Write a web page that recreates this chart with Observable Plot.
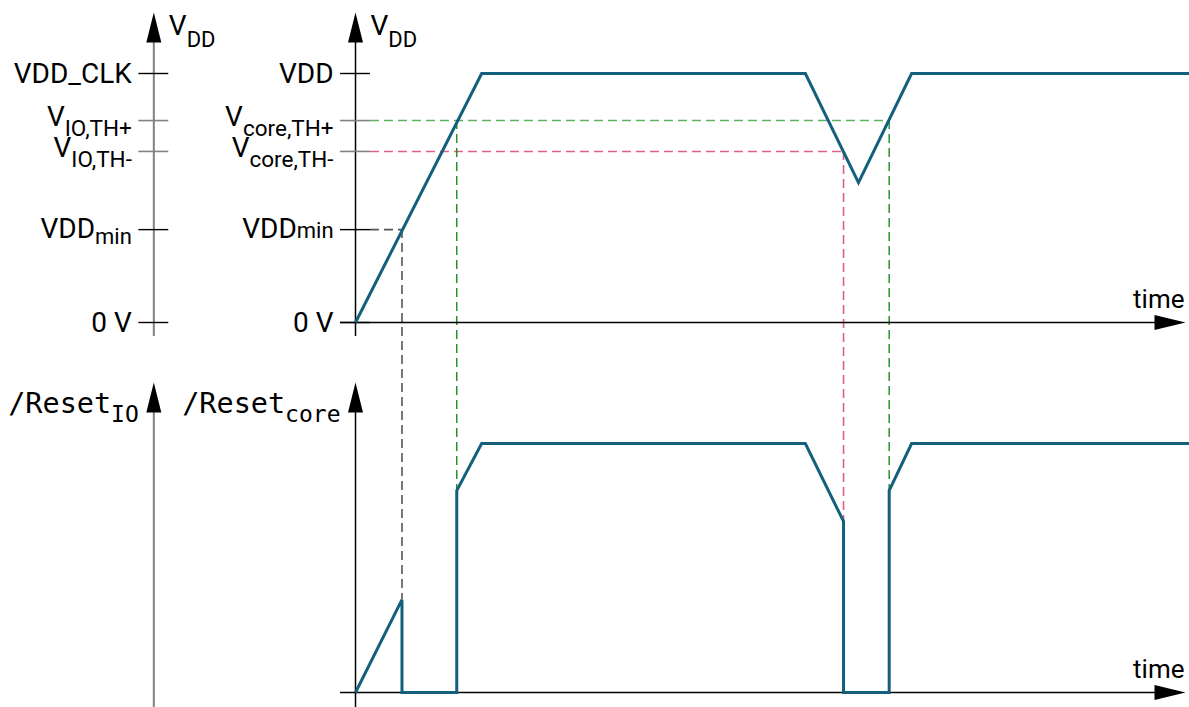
<!DOCTYPE html>
<html>
<head>
<meta charset="utf-8">
<script src="https://cdn.jsdelivr.net/npm/d3@7"></script>
<script src="https://cdn.jsdelivr.net/npm/@observablehq/plot@0.6"></script>
<style>
html, body { margin: 0; padding: 0; background: #fff; }
#chart svg { display: block; }
</style>
</head>
<body>
<div id="chart"></div>
<script>
// ---------------- data ----------------
// supply levels (normalised to VDD = 1)
const levelValues   = [0, 0.373, 0.687, 0.811, 1];
const ioLabelMain   = ["0 V", "VDD", "V", "V", "VDD_CLK"];
const ioLabelSub    = ["", "min", "IO,TH-", "IO,TH+", ""];
const coreLabelMain = ["0 V", "VDD", "V", "V", "VDD"];
const coreLabelSub  = ["", "min", "core,TH-", "core,TH+", ""];
const thresholdLevel = [false, false, true, true, false];

// VDD waveform (time in arbitrary units)
const vddTimes  = [0, 15.2, 54.2, 60.6, 67.0, 100.5];
const vddValues = [0, 1, 1, 0.562, 1, 1];

// /Reset_core waveform
const resetTimes  = [0, 5.6, 5.6, 12.2, 12.2, 15.2, 54.2, 58.8, 58.8, 64.3, 64.3, 67.0, 100.5];
const resetValues = [0, 0.373, 0, 0, 0.811, 1, 1, 0.687, 0, 0, 0.811, 1, 1];

// threshold crossing events
const eventTimes  = [5.6, 12.2, 58.8, 64.3];
const eventLevels = [0.373, 0.811, 0.687, 0.811];
const eventKinds  = ["min", "plus", "minus", "plus"];

// axis titles
const vTitleMain = ["V", "V"];
const vTitleSub  = ["DD", "DD"];
const rTitleMain = ["/Reset", "/Reset"];
const rTitleSub  = ["IO", "core"];
const timeLabel  = "time";

// ---------------- layout constants (data units) ----------------
const LEFT_AXIS = -24.3;     // IO reference axis position on the time scale
const CORE_AXIS = 0;
const AXES = [LEFT_AXIS, CORE_AXIS];
const TICK = 1.8;
const RESET_BASE = -1.486;   // vertical offset of the reset panel
const AXIS_TOP = 1.245;
const AXIS_BOTTOM_TOP = -0.056;
const AXIS_BOTTOM_RESET = -0.07;
const TIME_START = -1.8, TIME_END = 100;

const SIGNAL = "#135f7c";
const GREEN_H = "#5fb35f";
const GREEN_V = "#1b8a1b";
const PINK = "#dc5f8e";
const GRAYD = "#555555";

// ---------------- tables ----------------
const vdd = vddTimes.map((t, i) => ({t, v: vddValues[i]}));
const reset = resetTimes.map((t, i) => ({t, v: RESET_BASE + resetValues[i]}));
const events = eventTimes.map((t, i) => ({t, level: eventLevels[i], kind: eventKinds[i]}));
const horiz = Array.from(d3.group(events, d => d.kind), ([kind, evs]) =>
  ({kind, level: evs[0].level, t: d3.max(evs, d => d.t)}));

const ticks = AXES.flatMap(a => levelValues.map((v, i) => ({axis: a, level: v, gray: thresholdLevel[i]})));
const tickLabels = [
  ...levelValues.map((v, i) => ({axis: LEFT_AXIS, level: v, main: ioLabelMain[i], sub: ioLabelSub[i], side: "io"})),
  ...levelValues.map((v, i) => ({axis: CORE_AXIS, level: v, main: coreLabelMain[i], sub: coreLabelSub[i], side: "core"}))
];
const vTitles = AXES.map((a, i) => ({axis: a, main: vTitleMain[i], sub: vTitleSub[i]}));
const rTitles = AXES.map((a, i) => ({axis: a, main: rTitleMain[i], sub: rTitleSub[i]}));

const arrowUp = {draw(ctx) { ctx.moveTo(0, 0); ctx.lineTo(-7.5, 30); ctx.lineTo(7.5, 30); ctx.closePath(); }};
const arrowRight = {draw(ctx) { ctx.moveTo(0, 0); ctx.lineTo(-31, -7.5); ctx.lineTo(-31, 7.5); ctx.closePath(); }};

const F = "Roboto, 'Noto Sans', sans-serif";
const M = "'DejaVu Sans Mono', 'Liberation Mono', monospace";

const svg = Plot.plot({
  width: 1189,
  height: 707,
  margin: 0,
  style: {background: "#fff", overflow: "visible"},
  x: {domain: [0, 100], range: [355, 1185], axis: null},
  y: {domain: [0, 1], range: [322, 73], axis: null},
  marks: [
    // horizontal dashed guides
    Plot.ruleY(horiz.filter(d => d.kind === "min"), {y: "level", x1: TICK, x2: "t", stroke: GRAYD, strokeWidth: 1.6, strokeDasharray: "9,5"}),
    Plot.ruleY(horiz.filter(d => d.kind === "plus"), {y: "level", x1: TICK, x2: "t", stroke: GREEN_H, strokeWidth: 1.6, strokeDasharray: "9,5"}),
    Plot.ruleY(horiz.filter(d => d.kind === "minus"), {y: "level", x1: TICK, x2: "t", stroke: PINK, strokeWidth: 1.6, strokeDasharray: "9,5"}),
    // vertical dashed guides
    Plot.ruleX(events.filter(d => d.kind === "min"), {x: "t", y1: "level", y2: d => RESET_BASE + d.level, stroke: GRAYD, strokeWidth: 1.6, strokeDasharray: "9,5"}),
    Plot.ruleX(events.filter(d => d.kind === "plus"), {x: "t", y1: "level", y2: d => RESET_BASE + d.level, stroke: GREEN_V, strokeWidth: 1.4, strokeDasharray: "9,5"}),
    Plot.ruleX(events.filter(d => d.kind === "minus"), {x: "t", y1: "level", y2: d => RESET_BASE + d.level, stroke: PINK, strokeWidth: 1.6, strokeDasharray: "9,5"}),
    // vertical axes
    Plot.ruleX([LEFT_AXIS], {x: d => d, y1: AXIS_BOTTOM_TOP, y2: AXIS_TOP - 0.05, stroke: "#808080", strokeWidth: 2}),
    Plot.ruleX([LEFT_AXIS], {x: d => d, y1: RESET_BASE + AXIS_BOTTOM_RESET, y2: RESET_BASE + AXIS_TOP - 0.05, stroke: "#808080", strokeWidth: 2}),
    Plot.ruleX([CORE_AXIS], {x: d => d, y1: AXIS_BOTTOM_TOP, y2: AXIS_TOP - 0.05, stroke: "#000", strokeWidth: 1.5}),
    Plot.ruleX([CORE_AXIS], {x: d => d, y1: RESET_BASE + AXIS_BOTTOM_RESET, y2: RESET_BASE + AXIS_TOP - 0.05, stroke: "#000", strokeWidth: 1.5}),
    // time axes
    Plot.ruleY([0, RESET_BASE], {y: d => d, x1: TIME_START, x2: TIME_END - 2, stroke: "#000", strokeWidth: 1.5}),
    // ticks
    Plot.ruleY(ticks.filter(d => !d.gray), {y: "level", x1: d => d.axis - TICK, x2: d => d.axis + TICK, stroke: "#000", strokeWidth: 1.4}),
    Plot.ruleY(ticks.filter(d => d.gray), {y: "level", x1: d => d.axis - TICK, x2: d => d.axis + TICK, stroke: "#808080", strokeWidth: 1.6}),
    // arrowheads
    Plot.dot(AXES.flatMap(a => [{x: a, y: AXIS_TOP}, {x: a, y: RESET_BASE + AXIS_TOP}]), {x: "x", y: "y", symbol: arrowUp, fill: "#000", stroke: "none"}),
    Plot.dot([0, RESET_BASE], {x: TIME_END, y: d => d, symbol: arrowRight, fill: "#000", stroke: "none"}),
    // signals
    Plot.line(vdd, {x: "t", y: "v", stroke: SIGNAL, strokeWidth: 3, strokeLinejoin: "miter", strokeMiterlimit: 4, strokeLinecap: "butt"}),
    Plot.line(reset, {x: "t", y: "v", stroke: SIGNAL, strokeWidth: 3, strokeLinejoin: "miter", strokeMiterlimit: 4, strokeLinecap: "butt"}),
    // labels
    Plot.text(tickLabels, {x: d => d.axis - TICK, y: "level", text: d => d.main + d.sub, textAnchor: "end", lineAnchor: "bottom", dx: -7, fontSize: 28, fontFamily: F, fill: "#000", ariaDescription: "ticklabels"}),
    Plot.text(vTitles, {x: "axis", y: AXIS_TOP, text: d => d.main + d.sub, textAnchor: "start", lineAnchor: "bottom", dx: 15, dy: 23, fontSize: 28, fontFamily: F, fill: "#000", ariaDescription: "vtitles"}),
    Plot.text(rTitles, {x: "axis", y: RESET_BASE + AXIS_TOP, text: d => d.main + d.sub, textAnchor: "end", lineAnchor: "bottom", dx: -15, dy: 30, fontSize: 28.5, fontFamily: M, fill: "#000", ariaDescription: "rtitles"}),
    Plot.text([0, RESET_BASE], {x: TIME_END, y: d => d, text: () => timeLabel, textAnchor: "end", lineAnchor: "bottom", dx: -1, dy: -15, fontSize: 26, fontFamily: F, fill: "#000"})
  ]
});

// rich-text subscripts
const NS = "http://www.w3.org/2000/svg";
function subscript(label, items, opts) {
  svg.querySelectorAll(`g[aria-description="${label}"] text`).forEach((el, i) => {
    const it = items[i];
    if (!it) return;
    const o = opts(it);
    el.setAttribute("dy", o.dy);
    if (!it.sub) return;
    el.textContent = "";
    const a = document.createElementNS(NS, "tspan");
    a.textContent = it.main;
    const b = document.createElementNS(NS, "tspan");
    b.textContent = it.sub;
    b.setAttribute("dy", o.shift);
    b.setAttribute("font-size", o.size);
    el.append(a, b);
  });
}
subscript("ticklabels", tickLabels, it =>
  !it.sub ? {dy: 9} :
  it.sub === "min" ? {dy: 8, shift: it.side === "io" ? 6 : 0, size: 22} :
  {dy: 5.5, shift: 10, size: 22.5});
subscript("vtitles", vTitles, () => ({dy: 0, shift: 12, size: 22}));
subscript("rtitles", rTitles, () => ({dy: 0, shift: 9, size: 23}));

document.getElementById("chart").append(svg);
</script>
</body>
</html>
